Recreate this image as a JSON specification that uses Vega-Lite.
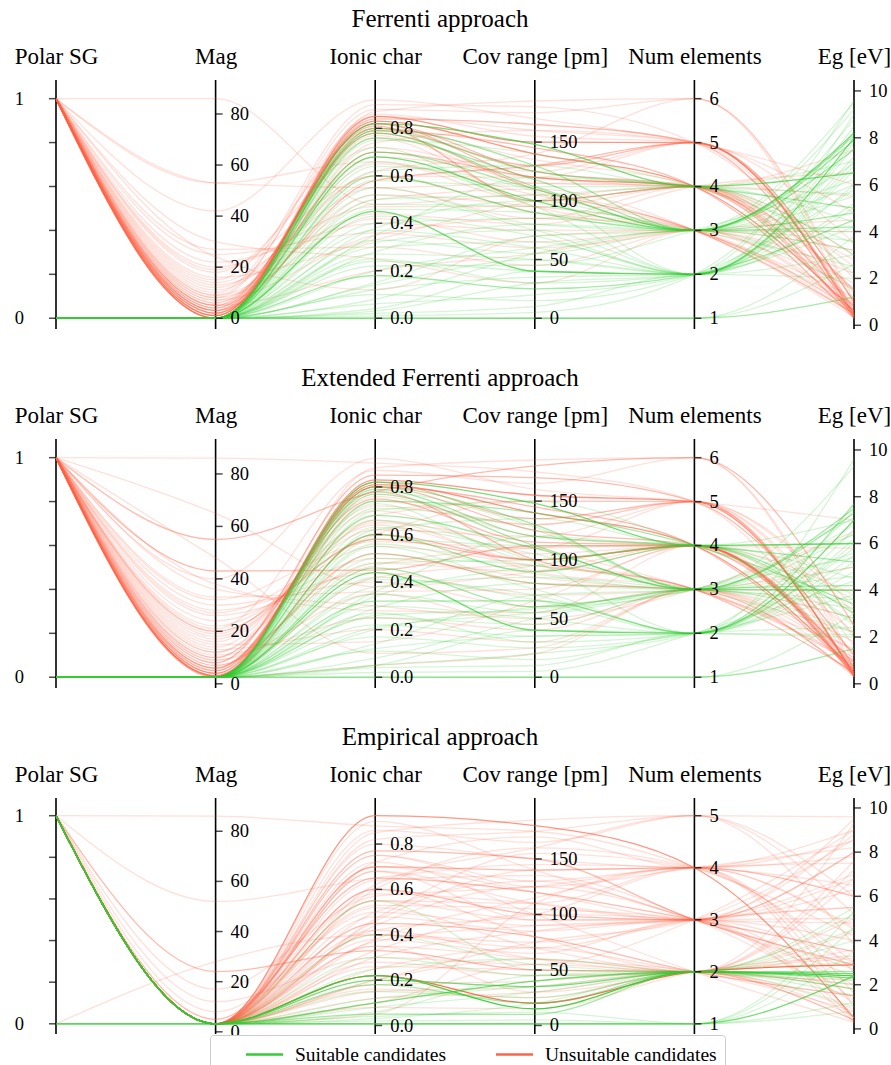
{
"$schema": "https://vega.github.io/schema/vega-lite/v6.json",
"padding": {"left": 14, "top": 7, "right": 0, "bottom": 0},
"config": {
  "view": {"stroke": null},
  "font": "Liberation Serif",
  "legend": {"orient": "none", "legendX": 154, "legendY": 955, "direction": "horizontal", "symbolType": "M-1.85,0H1.85", "symbolStrokeWidth": 2.5, "symbolSize": 400, "symbolOpacity": 1, "symbolOffset": 35, "labelFont": "Liberation Serif", "labelFontSize": 19.5, "labelLimit": 400, "labelColor": "black", "strokeColor": "#cccccc", "fillColor": "white", "padding": 8, "cornerRadius": 3, "columnPadding": 21, "labelOffset": 19}
},
"datasets": {
  "ax1": [{"k":"p","idx":0,"name":"Polar SG","lo":0,"hi":1},{"k":"m","idx":1,"name":"Mag","lo":0,"hi":86},{"k":"i","idx":2,"name":"Ionic char","lo":0,"hi":0.925},{"k":"c","idx":3,"name":"Cov range [pm]","lo":0,"hi":187},{"k":"n","idx":4,"name":"Num elements","lo":1,"hi":6},{"k":"e","idx":5,"name":"Eg [eV]","lo":0.3,"hi":9.67}],
  "ax2": [{"k":"p","idx":0,"name":"Polar SG","lo":0,"hi":1},{"k":"m","idx":1,"name":"Mag","lo":2.5,"hi":86.2},{"k":"i","idx":2,"name":"Ionic char","lo":0,"hi":0.923},{"k":"c","idx":3,"name":"Cov range [pm]","lo":0,"hi":187},{"k":"n","idx":4,"name":"Num elements","lo":1,"hi":6},{"k":"e","idx":5,"name":"Eg [eV]","lo":0.28,"hi":9.67}],
  "ax3": [{"k":"p","idx":0,"name":"Polar SG","lo":0,"hi":1},{"k":"m","idx":1,"name":"Mag","lo":3.2,"hi":86.2},{"k":"i","idx":2,"name":"Ionic char","lo":0.0075,"hi":0.925},{"k":"c","idx":3,"name":"Cov range [pm]","lo":1.5,"hi":189},{"k":"n","idx":4,"name":"Num elements","lo":1,"hi":5},{"k":"e","idx":5,"name":"Eg [eV]","lo":0.23,"hi":9.65}],
  "ticks": [{"k":"p","v":0,"t":"0"},{"k":"p","v":0.2,"t":""},{"k":"p","v":0.4,"t":""},{"k":"p","v":0.6,"t":""},{"k":"p","v":0.8,"t":""},{"k":"p","v":1,"t":"1"},
    {"k":"m","v":0,"t":"0"},{"k":"m","v":20,"t":"20"},{"k":"m","v":40,"t":"40"},{"k":"m","v":60,"t":"60"},{"k":"m","v":80,"t":"80"},
    {"k":"i","v":0,"t":"0.0"},{"k":"i","v":0.2,"t":"0.2"},{"k":"i","v":0.4,"t":"0.4"},{"k":"i","v":0.6,"t":"0.6"},{"k":"i","v":0.8,"t":"0.8"},
    {"k":"c","v":0,"t":"0"},{"k":"c","v":50,"t":"50"},{"k":"c","v":100,"t":"100"},{"k":"c","v":150,"t":"150"},
    {"k":"n","v":1,"t":"1"},{"k":"n","v":2,"t":"2"},{"k":"n","v":3,"t":"3"},{"k":"n","v":4,"t":"4"},{"k":"n","v":5,"t":"5"},{"k":"n","v":6,"t":"6"},
    {"k":"e","v":0,"t":"0"},{"k":"e","v":2,"t":"2"},{"k":"e","v":4,"t":"4"},{"k":"e","v":6,"t":"6"},{"k":"e","v":8,"t":"8"},{"k":"e","v":10,"t":"10"}],
  "d1": [
    {"g":"u","p":1,"m":0,"i":0.85,"c":150,"n":5,"e":0.4,"w":3},
    {"g":"u","p":1,"m":1,"i":0.83,"c":140,"n":4,"e":0.6,"w":3},
    {"g":"u","p":1,"m":2,"i":0.82,"c":120,"n":4,"e":0.8,"w":2},
    {"g":"u","p":1,"m":3,"i":0.8,"c":130,"n":5,"e":1.0,"w":2},
    {"g":"u","p":1,"m":0,"i":0.84,"c":165,"n":5,"e":0.3,"w":2},
    {"g":"u","p":1,"m":5,"i":0.78,"c":110,"n":3,"e":0.5,"w":2},
    {"g":"u","p":1,"m":4,"i":0.81,"c":100,"n":4,"e":1.5,"w":2},
    {"g":"u","p":1,"m":6,"i":0.76,"c":95,"n":3,"e":0.7,"w":1},
    {"g":"u","p":1,"m":8,"i":0.88,"c":175,"n":6,"e":0.9,"w":1},
    {"g":"u","p":1,"m":10,"i":0.9,"c":180,"n":5,"e":2.0,"w":1},
    {"g":"u","p":1,"m":2,"i":0.7,"c":120,"n":4,"e":0.4,"w":2},
    {"g":"u","p":1,"m":7,"i":0.65,"c":105,"n":3,"e":1.2,"w":1},
    {"g":"u","p":1,"m":12,"i":0.6,"c":90,"n":3,"e":0.6,"w":1},
    {"g":"u","p":1,"m":14,"i":0.55,"c":85,"n":4,"e":2.5,"w":1},
    {"g":"u","p":1,"m":9,"i":0.5,"c":110,"n":3,"e":0.35,"w":1},
    {"g":"u","p":1,"m":20,"i":0.47,"c":95,"n":4,"e":3.0,"w":1},
    {"g":"u","p":1,"m":22,"i":0.4,"c":75,"n":3,"e":1.8,"w":1},
    {"g":"u","p":1,"m":25,"i":0.36,"c":60,"n":3,"e":4.5,"w":1},
    {"g":"u","p":1,"m":27,"i":0.3,"c":45,"n":3,"e":0.8,"w":1},
    {"g":"u","p":1,"m":16,"i":0.33,"c":100,"n":4,"e":5.5,"w":1},
    {"g":"u","p":1,"m":3,"i":0.58,"c":130,"n":5,"e":0.5,"w":2},
    {"g":"u","p":1,"m":1,"i":0.86,"c":155,"n":5,"e":3.5,"w":1},
    {"g":"u","p":1,"m":0,"i":0.79,"c":145,"n":4,"e":0.3,"w":2},
    {"g":"u","p":1,"m":18,"i":0.72,"c":125,"n":5,"e":1.0,"w":1},
    {"g":"u","p":1,"m":42,"i":0.92,"c":170,"n":5,"e":6.0,"w":1},
    {"g":"u","p":1,"m":53,"i":0.55,"c":115,"n":4,"e":1.4,"w":1},
    {"g":"u","p":1,"m":86,"i":0.48,"c":105,"n":3,"e":0.9,"w":1},
    {"g":"u","p":1,"m":30,"i":0.25,"c":30,"n":3,"e":2.2,"w":1},
    {"g":"u","p":1,"m":11,"i":0.62,"c":140,"n":6,"e":0.45,"w":1},
    {"g":"u","p":1,"m":13,"i":0.44,"c":80,"n":4,"e":6.5,"w":1},
    {"g":"u","p":1,"m":5,"i":0.2,"c":55,"n":3,"e":3.2,"w":1},
    {"g":"u","p":1,"m":24,"i":0.12,"c":70,"n":3,"e":4.0,"w":1},
    {"g":"u","p":1,"m":4,"i":0.74,"c":160,"n":5,"e":0.7,"w":1},
    {"g":"u","p":1,"m":6,"i":0.68,"c":120,"n":4,"e":7.5,"w":1},
    {"g":"u","p":1,"m":2,"i":0.87,"c":185,"n":6,"e":1.1,"w":1},
    {"g":"u","p":1,"m":8,"i":0.42,"c":65,"n":3,"e":0.6,"w":1},
    {"g":"u","p":1,"m":15,"i":0.8,"c":135,"n":4,"e":2.8,"w":1},
    {"g":"u","p":1,"m":53,"i":0.66,"c":100,"n":4,"e":0.5,"w":1},
    {"g":"u","p":1,"m":1,"i":0.82,"c":125,"n":4,"e":0.35,"w":2},
    {"g":"u","p":1,"m":3,"i":0.77,"c":115,"n":4,"e":0.9,"w":1},
    {"g":"u","p":1,"m":5,"i":0.52,"c":95,"n":3,"e":0.5,"w":1},
    {"g":"u","p":1,"m":7,"i":0.35,"c":85,"n":3,"e":1.6,"w":1},
    {"g":"u","p":1,"m":9,"i":0.85,"c":160,"n":5,"e":4.8,"w":1},
    {"g":"u","p":1,"m":19,"i":0.6,"c":120,"n":5,"e":0.6,"w":1},
    {"g":"s","p":0,"m":0,"i":0.82,"c":148,"n":4,"e":6.5,"w":3},
    {"g":"s","p":0,"m":0,"i":0.8,"c":130,"n":3,"e":4.2,"w":2},
    {"g":"s","p":0,"m":0,"i":0.79,"c":125,"n":4,"e":5.0,"w":2},
    {"g":"s","p":0,"m":0,"i":0.78,"c":112,"n":3,"e":8.1,"w":2},
    {"g":"s","p":0,"m":0,"i":0.75,"c":140,"n":4,"e":3.5,"w":1},
    {"g":"s","p":0,"m":0,"i":0.7,"c":110,"n":3,"e":7.5,"w":2},
    {"g":"s","p":0,"m":0,"i":0.68,"c":100,"n":3,"e":8.2,"w":3},
    {"g":"s","p":0,"m":0,"i":0.66,"c":95,"n":2,"e":6.0,"w":1},
    {"g":"s","p":0,"m":0,"i":0.6,"c":90,"n":3,"e":4.8,"w":2},
    {"g":"s","p":0,"m":0,"i":0.58,"c":112,"n":4,"e":3.0,"w":1},
    {"g":"s","p":0,"m":0,"i":0.55,"c":80,"n":3,"e":5.5,"w":1},
    {"g":"s","p":0,"m":0,"i":0.52,"c":75,"n":2,"e":7.0,"w":1},
    {"g":"s","p":0,"m":0,"i":0.48,"c":95,"n":3,"e":2.5,"w":1},
    {"g":"s","p":0,"m":0,"i":0.45,"c":40,"n":2,"e":8.0,"w":3},
    {"g":"s","p":0,"m":0,"i":0.43,"c":70,"n":2,"e":6.8,"w":1},
    {"g":"s","p":0,"m":0,"i":0.4,"c":85,"n":3,"e":4.0,"w":1},
    {"g":"s","p":0,"m":0,"i":0.37,"c":60,"n":2,"e":5.2,"w":1},
    {"g":"s","p":0,"m":0,"i":0.33,"c":55,"n":3,"e":3.6,"w":1},
    {"g":"s","p":0,"m":0,"i":0.3,"c":65,"n":2,"e":7.8,"w":1},
    {"g":"s","p":0,"m":0,"i":0.27,"c":50,"n":2,"e":9.0,"w":1},
    {"g":"s","p":0,"m":0,"i":0.25,"c":30,"n":2,"e":8.5,"w":1},
    {"g":"s","p":0,"m":0,"i":0.22,"c":45,"n":3,"e":6.2,"w":1},
    {"g":"s","p":0,"m":0,"i":0.18,"c":25,"n":2,"e":4.5,"w":2},
    {"g":"s","p":0,"m":0,"i":0.15,"c":70,"n":3,"e":9.5,"w":1},
    {"g":"s","p":0,"m":0,"i":0.12,"c":35,"n":2,"e":7.2,"w":1},
    {"g":"s","p":0,"m":0,"i":0.1,"c":15,"n":2,"e":5.8,"w":1},
    {"g":"s","p":0,"m":0,"i":0.08,"c":55,"n":3,"e":3.2,"w":1},
    {"g":"s","p":0,"m":0,"i":0.06,"c":20,"n":2,"e":9.6,"w":1},
    {"g":"s","p":0,"m":0,"i":0.04,"c":40,"n":2,"e":6.6,"w":1},
    {"g":"s","p":0,"m":0,"i":0.02,"c":10,"n":2,"e":2.0,"w":1},
    {"g":"s","p":0,"m":0,"i":0.0,"c":0,"n":1,"e":1.2,"w":2},
    {"g":"s","p":0,"m":0,"i":0.0,"c":0,"n":1,"e":2.6,"w":1},
    {"g":"s","p":0,"m":0,"i":0.0,"c":0,"n":1,"e":3.8,"w":1},
    {"g":"s","p":0,"m":0,"i":0.01,"c":5,"n":2,"e":8.8,"w":1},
    {"g":"s","p":0,"m":0,"i":0.35,"c":120,"n":4,"e":5.6,"w":1},
    {"g":"s","p":0,"m":0,"i":0.5,"c":105,"n":4,"e":2.2,"w":1},
    {"g":"s","p":0,"m":0,"i":0.62,"c":130,"n":4,"e":7.0,"w":1},
    {"g":"s","p":0,"m":0,"i":0.28,"c":80,"n":3,"e":6.9,"w":1},
    {"g":"s","p":0,"m":0,"i":0.2,"c":60,"n":3,"e":1.5,"w":1},
    {"g":"s","p":0,"m":0,"i":0.72,"c":100,"n":4,"e":4.4,"w":1},
    {"g":"s","p":0,"m":0,"i":0.76,"c":118,"n":3,"e":7.9,"w":2},
    {"g":"s","p":0,"m":0,"i":0.64,"c":108,"n":2,"e":8.3,"w":1},
    {"g":"s","p":0,"m":0,"i":0.46,"c":90,"n":3,"e":6.0,"w":1},
    {"g":"s","p":0,"m":0,"i":0.32,"c":75,"n":2,"e":5.0,"w":1},
    {"g":"s","p":0,"m":0,"i":0.24,"c":40,"n":2,"e":3.0,"w":1},
    {"g":"s","p":0,"m":0,"i":0.14,"c":50,"n":2,"e":7.6,"w":1},
    {"g":"s","p":0,"m":0,"i":0.03,"c":30,"n":2,"e":4.2,"w":1},
    {"g":"s","p":0,"m":0,"i":0.38,"c":100,"n":3,"e":9.2,"w":1}
  ],
  "d2": [
    {"g":"u","p":1,"m":3,"i":0.83,"c":155,"n":5,"e":0.4,"w":3},
    {"g":"u","p":1,"m":4,"i":0.81,"c":140,"n":4,"e":0.6,"w":3},
    {"g":"u","p":1,"m":5,"i":0.8,"c":125,"n":4,"e":0.9,"w":2},
    {"g":"u","p":1,"m":6,"i":0.78,"c":100,"n":3,"e":0.5,"w":2},
    {"g":"u","p":1,"m":8,"i":0.85,"c":170,"n":5,"e":1.2,"w":2},
    {"g":"u","p":1,"m":10,"i":0.75,"c":115,"n":4,"e":0.3,"w":2},
    {"g":"u","p":1,"m":12,"i":0.72,"c":130,"n":5,"e":1.6,"w":1},
    {"g":"u","p":1,"m":14,"i":0.7,"c":105,"n":4,"e":2.2,"w":1},
    {"g":"u","p":1,"m":16,"i":0.66,"c":90,"n":3,"e":0.8,"w":1},
    {"g":"u","p":1,"m":18,"i":0.62,"c":120,"n":5,"e":3.0,"w":1},
    {"g":"u","p":1,"m":20,"i":0.58,"c":100,"n":4,"e":0.45,"w":2},
    {"g":"u","p":1,"m":22,"i":0.55,"c":95,"n":3,"e":1.0,"w":1},
    {"g":"u","p":1,"m":24,"i":0.5,"c":85,"n":3,"e":4.0,"w":1},
    {"g":"u","p":1,"m":26,"i":0.47,"c":110,"n":4,"e":0.6,"w":1},
    {"g":"u","p":1,"m":28,"i":0.44,"c":70,"n":3,"e":5.0,"w":1},
    {"g":"u","p":1,"m":30,"i":0.4,"c":60,"n":3,"e":1.8,"w":1},
    {"g":"u","p":1,"m":33,"i":0.36,"c":75,"n":4,"e":0.35,"w":1},
    {"g":"u","p":1,"m":36,"i":0.3,"c":50,"n":3,"e":6.5,"w":1},
    {"g":"u","p":1,"m":43,"i":0.45,"c":112,"n":4,"e":0.7,"w":2},
    {"g":"u","p":1,"m":55,"i":0.78,"c":180,"n":6,"e":2.5,"w":2},
    {"g":"u","p":1,"m":86,"i":0.9,"c":175,"n":5,"e":0.5,"w":1},
    {"g":"u","p":1,"m":3,"i":0.6,"c":100,"n":4,"e":0.35,"w":2},
    {"g":"u","p":1,"m":5,"i":0.88,"c":185,"n":6,"e":0.9,"w":1},
    {"g":"u","p":1,"m":7,"i":0.52,"c":80,"n":3,"e":0.4,"w":2},
    {"g":"u","p":1,"m":9,"i":0.35,"c":45,"n":3,"e":1.1,"w":1},
    {"g":"u","p":1,"m":11,"i":0.25,"c":40,"n":3,"e":2.8,"w":1},
    {"g":"u","p":1,"m":13,"i":0.2,"c":30,"n":3,"e":0.7,"w":1},
    {"g":"u","p":1,"m":15,"i":0.15,"c":65,"n":4,"e":3.8,"w":1},
    {"g":"u","p":1,"m":19,"i":0.68,"c":150,"n":5,"e":0.4,"w":1},
    {"g":"u","p":1,"m":2.5,"i":0.82,"c":135,"n":5,"e":0.3,"w":2},
    {"g":"u","p":1,"m":40,"i":0.92,"c":160,"n":5,"e":7.0,"w":1},
    {"g":"u","p":1,"m":48,"i":0.1,"c":25,"n":3,"e":1.4,"w":1},
    {"g":"u","p":1,"m":65,"i":0.38,"c":90,"n":4,"e":0.5,"w":1},
    {"g":"u","p":1,"m":6,"i":0.76,"c":120,"n":4,"e":5.8,"w":1},
    {"g":"u","p":1,"m":4,"i":0.42,"c":95,"n":3,"e":0.9,"w":1},
    {"g":"u","p":1,"m":21,"i":0.87,"c":165,"n":6,"e":0.6,"w":1},
    {"g":"u","p":1,"m":32,"i":0.57,"c":110,"n":5,"e":2.0,"w":1},
    {"g":"u","p":1,"m":2.5,"i":0.05,"c":20,"n":3,"e":0.3,"w":1},
    {"g":"u","p":1,"m":38,"i":0.28,"c":55,"n":4,"e":1.3,"w":1},
    {"g":"u","p":1,"m":17,"i":0.64,"c":100,"n":4,"e":0.8,"w":1},
    {"g":"u","p":1,"m":3,"i":0.8,"c":145,"n":4,"e":0.5,"w":2},
    {"g":"u","p":1,"m":6,"i":0.74,"c":130,"n":5,"e":0.7,"w":1},
    {"g":"u","p":1,"m":9,"i":0.48,"c":90,"n":4,"e":0.4,"w":1},
    {"g":"u","p":1,"m":12,"i":0.65,"c":110,"n":3,"e":1.5,"w":1},
    {"g":"u","p":1,"m":27,"i":0.6,"c":150,"n":5,"e":3.3,"w":1},
    {"g":"s","p":0,"m":2.5,"i":0.82,"c":148,"n":4,"e":6.0,"w":3},
    {"g":"s","p":0,"m":2.5,"i":0.8,"c":130,"n":3,"e":4.0,"w":2},
    {"g":"s","p":0,"m":2.5,"i":0.79,"c":120,"n":4,"e":5.2,"w":2},
    {"g":"s","p":0,"m":2.5,"i":0.77,"c":112,"n":3,"e":7.3,"w":2},
    {"g":"s","p":0,"m":2.5,"i":0.74,"c":140,"n":4,"e":3.4,"w":2},
    {"g":"s","p":0,"m":2.5,"i":0.71,"c":125,"n":3,"e":6.8,"w":1},
    {"g":"s","p":0,"m":2.5,"i":0.68,"c":110,"n":3,"e":7.5,"w":2},
    {"g":"s","p":0,"m":2.5,"i":0.66,"c":98,"n":2,"e":5.5,"w":1},
    {"g":"s","p":0,"m":2.5,"i":0.63,"c":105,"n":3,"e":4.6,"w":1},
    {"g":"s","p":0,"m":2.5,"i":0.6,"c":90,"n":4,"e":3.0,"w":2},
    {"g":"s","p":0,"m":2.5,"i":0.58,"c":112,"n":4,"e":2.5,"w":1},
    {"g":"s","p":0,"m":2.5,"i":0.55,"c":80,"n":3,"e":5.0,"w":1},
    {"g":"s","p":0,"m":2.5,"i":0.52,"c":75,"n":2,"e":6.2,"w":1},
    {"g":"s","p":0,"m":2.5,"i":0.5,"c":95,"n":3,"e":2.2,"w":1},
    {"g":"s","p":0,"m":2.5,"i":0.46,"c":60,"n":3,"e":4.2,"w":2},
    {"g":"s","p":0,"m":2.5,"i":0.44,"c":40,"n":2,"e":7.0,"w":3},
    {"g":"s","p":0,"m":2.5,"i":0.41,"c":70,"n":2,"e":6.6,"w":1},
    {"g":"s","p":0,"m":2.5,"i":0.38,"c":85,"n":3,"e":3.6,"w":1},
    {"g":"s","p":0,"m":2.5,"i":0.35,"c":55,"n":3,"e":3.2,"w":1},
    {"g":"s","p":0,"m":2.5,"i":0.32,"c":65,"n":2,"e":7.7,"w":2},
    {"g":"s","p":0,"m":2.5,"i":0.3,"c":50,"n":2,"e":4.8,"w":1},
    {"g":"s","p":0,"m":2.5,"i":0.27,"c":30,"n":2,"e":5.8,"w":1},
    {"g":"s","p":0,"m":2.5,"i":0.25,"c":45,"n":3,"e":2.8,"w":1},
    {"g":"s","p":0,"m":2.5,"i":0.22,"c":35,"n":2,"e":9.6,"w":1},
    {"g":"s","p":0,"m":2.5,"i":0.2,"c":60,"n":3,"e":6.4,"w":1},
    {"g":"s","p":0,"m":2.5,"i":0.17,"c":25,"n":2,"e":3.8,"w":1},
    {"g":"s","p":0,"m":2.5,"i":0.14,"c":70,"n":3,"e":9.3,"w":1},
    {"g":"s","p":0,"m":2.5,"i":0.11,"c":15,"n":2,"e":2.4,"w":1},
    {"g":"s","p":0,"m":2.5,"i":0.08,"c":50,"n":3,"e":5.4,"w":1},
    {"g":"s","p":0,"m":2.5,"i":0.05,"c":20,"n":2,"e":7.4,"w":1},
    {"g":"s","p":0,"m":2.5,"i":0.04,"c":10,"n":2,"e":2.1,"w":1},
    {"g":"s","p":0,"m":2.5,"i":0.02,"c":5,"n":2,"e":4.4,"w":1},
    {"g":"s","p":0,"m":2.5,"i":0.0,"c":0,"n":1,"e":1.5,"w":2},
    {"g":"s","p":0,"m":2.5,"i":0.0,"c":0,"n":1,"e":3.0,"w":1},
    {"g":"s","p":0,"m":2.5,"i":0.05,"c":40,"n":2,"e":2.0,"w":1},
    {"g":"s","p":0,"m":2.5,"i":0.36,"c":120,"n":4,"e":6.0,"w":1},
    {"g":"s","p":0,"m":2.5,"i":0.48,"c":100,"n":4,"e":2.6,"w":1},
    {"g":"s","p":0,"m":2.5,"i":0.62,"c":135,"n":4,"e":7.0,"w":1},
    {"g":"s","p":0,"m":2.5,"i":0.29,"c":80,"n":3,"e":5.6,"w":1},
    {"g":"s","p":0,"m":2.5,"i":0.21,"c":55,"n":3,"e":2.2,"w":1},
    {"g":"s","p":0,"m":2.5,"i":0.73,"c":100,"n":4,"e":4.5,"w":1},
    {"g":"s","p":0,"m":2.5,"i":0.7,"c":150,"n":4,"e":3.2,"w":1},
    {"g":"s","p":0,"m":2.5,"i":0.78,"c":128,"n":3,"e":6.4,"w":1},
    {"g":"s","p":0,"m":2.5,"i":0.56,"c":88,"n":3,"e":4.0,"w":1},
    {"g":"s","p":0,"m":2.5,"i":0.42,"c":66,"n":2,"e":5.2,"w":1},
    {"g":"s","p":0,"m":2.5,"i":0.26,"c":58,"n":3,"e":7.1,"w":1},
    {"g":"s","p":0,"m":2.5,"i":0.12,"c":35,"n":2,"e":6.0,"w":1},
    {"g":"s","p":0,"m":2.5,"i":0.34,"c":95,"n":4,"e":3.6,"w":1}
  ],
  "d3": [
    {"g":"u","p":1,"m":3.2,"i":0.925,"c":180,"n":4,"e":0.5,"w":3},
    {"g":"u","p":1,"m":3.2,"i":0.77,"c":150,"n":3,"e":2.9,"w":2},
    {"g":"u","p":1,"m":3.2,"i":0.7,"c":140,"n":4,"e":6.0,"w":2},
    {"g":"u","p":1,"m":5,"i":0.65,"c":120,"n":3,"e":3.5,"w":2},
    {"g":"u","p":1,"m":3.2,"i":0.6,"c":100,"n":3,"e":8.0,"w":2},
    {"g":"u","p":1,"m":3.2,"i":0.55,"c":110,"n":4,"e":4.5,"w":1},
    {"g":"u","p":1,"m":8,"i":0.5,"c":90,"n":3,"e":7.0,"w":1},
    {"g":"u","p":1,"m":3.2,"i":0.45,"c":80,"n":2,"e":1.5,"w":2},
    {"g":"u","p":1,"m":3.2,"i":0.4,"c":75,"n":3,"e":5.5,"w":1},
    {"g":"u","p":1,"m":3.2,"i":0.35,"c":60,"n":2,"e":0.8,"w":1},
    {"g":"u","p":1,"m":12,"i":0.3,"c":55,"n":3,"e":9.0,"w":1},
    {"g":"u","p":1,"m":3.2,"i":0.25,"c":70,"n":2,"e":2.2,"w":1},
    {"g":"u","p":1,"m":3.2,"i":0.75,"c":130,"n":4,"e":0.3,"w":1},
    {"g":"u","p":1,"m":3.2,"i":0.68,"c":95,"n":3,"e":6.8,"w":1},
    {"g":"u","p":1,"m":3.2,"i":0.62,"c":160,"n":5,"e":9.6,"w":1},
    {"g":"u","p":1,"m":17,"i":0.57,"c":125,"n":4,"e":1.0,"w":1},
    {"g":"u","p":1,"m":3.2,"i":0.48,"c":85,"n":3,"e":4.0,"w":1},
    {"g":"u","p":1,"m":3.2,"i":0.42,"c":100,"n":4,"e":7.5,"w":1},
    {"g":"u","p":1,"m":3.2,"i":0.38,"c":65,"n":3,"e":3.0,"w":1},
    {"g":"u","p":1,"m":24,"i":0.33,"c":50,"n":2,"e":0.4,"w":2},
    {"g":"u","p":1,"m":3.2,"i":0.72,"c":170,"n":4,"e":8.5,"w":1},
    {"g":"u","p":1,"m":3.2,"i":0.58,"c":110,"n":3,"e":5.0,"w":1},
    {"g":"u","p":1,"m":3.2,"i":0.85,"c":185,"n":5,"e":3.8,"w":1},
    {"g":"u","p":1,"m":3.2,"i":0.18,"c":40,"n":2,"e":1.8,"w":1},
    {"g":"u","p":1,"m":52,"i":0.65,"c":145,"n":4,"e":6.5,"w":1},
    {"g":"u","p":1,"m":86,"i":0.88,"c":175,"n":4,"e":4.2,"w":1},
    {"g":"u","p":1,"m":3.2,"i":0.12,"c":30,"n":2,"e":0.6,"w":1},
    {"g":"u","p":1,"m":3.2,"i":0.08,"c":15,"n":2,"e":3.3,"w":1},
    {"g":"u","p":1,"m":3.2,"i":0.53,"c":105,"n":3,"e":0.3,"w":1},
    {"g":"u","p":1,"m":3.2,"i":0.8,"c":150,"n":4,"e":7.8,"w":1},
    {"g":"u","p":1,"m":3.2,"i":0.44,"c":125,"n":3,"e":2.0,"w":1},
    {"g":"u","p":1,"m":3.2,"i":0.37,"c":90,"n":3,"e":8.8,"w":1},
    {"g":"u","p":1,"m":3.2,"i":0.28,"c":45,"n":2,"e":5.0,"w":1},
    {"g":"u","p":1,"m":3.2,"i":0.64,"c":135,"n":3,"e":1.2,"w":1},
    {"g":"u","p":1,"m":3.2,"i":0.86,"c":165,"n":5,"e":6.0,"w":1},
    {"g":"u","p":1,"m":3.2,"i":0.7,"c":120,"n":3,"e":4.8,"w":1},
    {"g":"u","p":1,"m":3.2,"i":0.2,"c":60,"n":2,"e":3.6,"w":1},
    {"g":"u","p":1,"m":3.2,"i":0.47,"c":155,"n":4,"e":2.6,"w":1},
    {"g":"u","p":1,"m":3.2,"i":0.6,"c":80,"n":2,"e":7.2,"w":1},
    {"g":"u","p":1,"m":3.2,"i":0.9,"c":140,"n":3,"e":2.4,"w":1},
    {"g":"u","p":1,"m":3.2,"i":0.15,"c":35,"n":2,"e":0.9,"w":1},
    {"g":"u","p":1,"m":3.2,"i":0.33,"c":100,"n":3,"e":0.5,"w":1},
    {"g":"u","p":1,"m":3.2,"i":0.52,"c":70,"n":2,"e":9.3,"w":1},
    {"g":"u","p":1,"m":3.2,"i":0.05,"c":110,"n":4,"e":1.6,"w":1},
    {"g":"u","p":0,"m":28,"i":0.4,"c":70,"n":3,"e":5.5,"w":1},
    {"g":"u","p":1,"m":3.2,"i":0.75,"c":125,"n":4,"e":8.2,"w":1},
    {"g":"u","p":1,"m":3.2,"i":0.68,"c":110,"n":3,"e":9.5,"w":1},
    {"g":"u","p":1,"m":3.2,"i":0.6,"c":160,"n":4,"e":3.0,"w":1},
    {"g":"u","p":1,"m":3.2,"i":0.55,"c":95,"n":3,"e":6.3,"w":1},
    {"g":"u","p":1,"m":3.2,"i":0.5,"c":130,"n":3,"e":2.7,"w":1},
    {"g":"u","p":1,"m":3.2,"i":0.42,"c":60,"n":2,"e":7.6,"w":1},
    {"g":"u","p":1,"m":3.2,"i":0.38,"c":115,"n":4,"e":4.6,"w":1},
    {"g":"u","p":1,"m":3.2,"i":0.3,"c":85,"n":3,"e":1.3,"w":1},
    {"g":"u","p":1,"m":3.2,"i":0.26,"c":50,"n":2,"e":6.8,"w":1},
    {"g":"u","p":1,"m":3.2,"i":0.2,"c":75,"n":3,"e":8.6,"w":1},
    {"g":"u","p":1,"m":3.2,"i":0.16,"c":25,"n":2,"e":2.0,"w":1},
    {"g":"u","p":1,"m":3.2,"i":0.1,"c":55,"n":2,"e":4.4,"w":1},
    {"g":"u","p":1,"m":3.2,"i":0.82,"c":175,"n":5,"e":5.2,"w":1},
    {"g":"u","p":1,"m":3.2,"i":0.72,"c":100,"n":2,"e":0.3,"w":1},
    {"g":"u","p":1,"m":3.2,"i":0.46,"c":140,"n":4,"e":9.0,"w":1},
    {"g":"u","p":1,"m":3.2,"i":0.35,"c":30,"n":2,"e":3.2,"w":1},
    {"g":"u","p":1,"m":3.2,"i":0.22,"c":20,"n":2,"e":2.9,"w":4},
    {"g":"s","p":1,"m":3.2,"i":0.22,"c":15,"n":2,"e":2.4,"w":4},
    {"g":"s","p":1,"m":3.2,"i":0.2,"c":35,"n":2,"e":2.5,"w":3},
    {"g":"s","p":1,"m":3.2,"i":0.1,"c":40,"n":2,"e":2.3,"w":3},
    {"g":"s","p":0,"m":3.2,"i":0.0075,"c":1.5,"n":1,"e":2.4,"w":3},
    {"g":"s","p":1,"m":3.2,"i":0.55,"c":50,"n":2,"e":5.5,"w":1},
    {"g":"s","p":1,"m":3.2,"i":0.4,"c":55,"n":2,"e":5.2,"w":1},
    {"g":"s","p":1,"m":3.2,"i":0.3,"c":45,"n":2,"e":4.5,"w":1},
    {"g":"s","p":1,"m":3.2,"i":0.05,"c":10,"n":2,"e":1.8,"w":2},
    {"g":"s","p":1,"m":3.2,"i":0.03,"c":20,"n":2,"e":2.0,"w":1},
    {"g":"s","p":0,"m":3.2,"i":0.0075,"c":1.5,"n":1,"e":1.2,"w":1},
    {"g":"s","p":0,"m":3.2,"i":0.0075,"c":1.5,"n":1,"e":0.8,"w":1},
    {"g":"s","p":0,"m":3.2,"i":0.02,"c":5,"n":1,"e":3.5,"w":1},
    {"g":"s","p":1,"m":3.2,"i":0.15,"c":25,"n":2,"e":1.5,"w":1},
    {"g":"s","p":1,"m":3.2,"i":0.08,"c":30,"n":2,"e":3.0,"w":1},
    {"g":"s","p":1,"m":3.2,"i":0.25,"c":60,"n":2,"e":4.0,"w":1},
    {"g":"s","p":0,"m":3.2,"i":0.0075,"c":1.5,"n":1,"e":5.3,"w":1},
    {"g":"s","p":1,"m":3.2,"i":0.12,"c":35,"n":2,"e":1.0,"w":1},
    {"g":"s","p":1,"m":3.2,"i":0.18,"c":20,"n":2,"e":2.6,"w":2},
    {"g":"s","p":0,"m":3.2,"i":0.04,"c":12,"n":1,"e":4.6,"w":1},
    {"g":"s","p":1,"m":3.2,"i":0.06,"c":45,"n":2,"e":2.2,"w":1}
  ]
},
"spacing": 31,
"resolve": {"scale": {"x": "independent", "y": "independent", "color": "shared", "opacity": "shared"}},
"vconcat": [
  {
    "title": {"text": "Ferrenti approach", "fontSize": 25, "font": "Liberation Serif", "fontWeight": "normal", "anchor": "middle", "dx": -15, "offset": 13, "color": "black"},
    "width": 798, "height": 249,
    "layer": [
      {"data": {"name": "ax1"}, "mark": {"type": "rule", "color": "black", "strokeWidth": 1.6},
       "encoding": {"x": {"field": "name", "type": "nominal", "scale": {"type": "point", "domain": ["Polar SG","Mag","Ionic char","Cov range [pm]","Num elements","Eg [eV]"], "padding": 0},
         "axis": {"orient": "top", "title": null, "domain": false, "ticks": false, "labelAngle": 0, "labelFontSize": 23, "labelFont": "Liberation Serif", "labelColor": "black", "labelPadding": 12}}}},
      {"data": {"name": "d1"},
       "transform": [{"window": [{"op": "row_number", "as": "id"}]}, {"fold": ["p","m","i","c","n","e"], "as": ["k","v"]}, {"lookup": "k", "from": {"data": {"name": "ax1"}, "key": "k", "fields": ["name","idx","lo","hi"]}}, {"calculate": "(datum.v-datum.lo)/(datum.hi-datum.lo)", "as": "y"}],
       "mark": {"type": "line", "interpolate": "monotone", "strokeWidth": 1.3},
       "encoding": {"x": {"field": "name", "type": "nominal"},
         "y": {"field": "y", "type": "quantitative", "scale": {"domain": [-0.049, 1.085], "nice": false, "zero": false}, "axis": null},
         "order": {"field": "idx"}, "detail": {"field": "id"},
         "color": {"field": "g", "type": "nominal", "scale": {"domain": ["s","u"], "range": ["#32cd32","#ff6347"]}, "legend": {"title": null, "labelExpr": "datum.label == 's' ? 'Suitable candidates' : 'Unsuitable candidates'"}},
         "opacity": {"field": "w", "type": "quantitative", "scale": {"domain": [1,4], "range": [0.2,0.9]}, "legend": null}}},
      {"data": {"name": "ticks"},
       "transform": [{"lookup": "k", "from": {"data": {"name": "ax1"}, "key": "k", "fields": ["name","lo","hi"]}}, {"calculate": "(datum.v-datum.lo)/(datum.hi-datum.lo)", "as": "y"}],
       "layer": [
         {"transform": [{"filter": "datum.k != 'p'"}], "mark": {"type": "tick", "orient": "horizontal", "size": 7, "thickness": 1.5, "color": "black"},
          "encoding": {"x": {"field": "name", "type": "nominal"}, "y": {"field": "y", "type": "quantitative", "axis": null}, "xOffset": {"value": 3.5}}},
         {"transform": [{"filter": "datum.k == 'p'"}], "mark": {"type": "tick", "orient": "horizontal", "size": 7, "thickness": 1.5, "color": "black"},
          "encoding": {"x": {"field": "name", "type": "nominal"}, "y": {"field": "y", "type": "quantitative", "axis": null}, "xOffset": {"value": -3.5}}},
         {"transform": [{"filter": "datum.k != 'p'"}], "mark": {"type": "text", "align": "left", "baseline": "middle", "dx": 15, "fontSize": 18.5, "font": "Liberation Serif", "color": "black"},
          "encoding": {"x": {"field": "name", "type": "nominal"}, "y": {"field": "y", "type": "quantitative", "axis": null}, "text": {"field": "t"}}},
         {"transform": [{"filter": "datum.k == 'p'"}], "mark": {"type": "text", "align": "right", "baseline": "middle", "dx": -32, "fontSize": 18.5, "font": "Liberation Serif", "color": "black"},
          "encoding": {"x": {"field": "name", "type": "nominal"}, "y": {"field": "y", "type": "quantitative", "axis": null}, "text": {"field": "t"}}}
       ]}
    ]
  },
  {
    "title": {"text": "Extended Ferrenti approach", "fontSize": 25, "font": "Liberation Serif", "fontWeight": "normal", "anchor": "middle", "dx": -15, "offset": 13, "color": "black"},
    "width": 798, "height": 249,
    "layer": [
      {"data": {"name": "ax2"}, "mark": {"type": "rule", "color": "black", "strokeWidth": 1.6},
       "encoding": {"x": {"field": "name", "type": "nominal", "scale": {"type": "point", "domain": ["Polar SG","Mag","Ionic char","Cov range [pm]","Num elements","Eg [eV]"], "padding": 0},
         "axis": {"orient": "top", "title": null, "domain": false, "ticks": false, "labelAngle": 0, "labelFontSize": 23, "labelFont": "Liberation Serif", "labelColor": "black", "labelPadding": 12}}}},
      {"data": {"name": "d2"},
       "transform": [{"window": [{"op": "row_number", "as": "id"}]}, {"fold": ["p","m","i","c","n","e"], "as": ["k","v"]}, {"lookup": "k", "from": {"data": {"name": "ax2"}, "key": "k", "fields": ["name","idx","lo","hi"]}}, {"calculate": "(datum.v-datum.lo)/(datum.hi-datum.lo)", "as": "y"}],
       "mark": {"type": "line", "interpolate": "monotone", "strokeWidth": 1.3},
       "encoding": {"x": {"field": "name", "type": "nominal"},
         "y": {"field": "y", "type": "quantitative", "scale": {"domain": [-0.049, 1.085], "nice": false, "zero": false}, "axis": null},
         "order": {"field": "idx"}, "detail": {"field": "id"},
         "color": {"field": "g", "type": "nominal", "scale": {"domain": ["s","u"], "range": ["#32cd32","#ff6347"]}, "legend": {"title": null, "labelExpr": "datum.label == 's' ? 'Suitable candidates' : 'Unsuitable candidates'"}},
         "opacity": {"field": "w", "type": "quantitative", "scale": {"domain": [1,4], "range": [0.2,0.9]}, "legend": null}}},
      {"data": {"name": "ticks"},
       "transform": [{"lookup": "k", "from": {"data": {"name": "ax2"}, "key": "k", "fields": ["name","lo","hi"]}}, {"calculate": "(datum.v-datum.lo)/(datum.hi-datum.lo)", "as": "y"}],
       "layer": [
         {"transform": [{"filter": "datum.k != 'p'"}], "mark": {"type": "tick", "orient": "horizontal", "size": 7, "thickness": 1.5, "color": "black"},
          "encoding": {"x": {"field": "name", "type": "nominal"}, "y": {"field": "y", "type": "quantitative", "axis": null}, "xOffset": {"value": 3.5}}},
         {"transform": [{"filter": "datum.k == 'p'"}], "mark": {"type": "tick", "orient": "horizontal", "size": 7, "thickness": 1.5, "color": "black"},
          "encoding": {"x": {"field": "name", "type": "nominal"}, "y": {"field": "y", "type": "quantitative", "axis": null}, "xOffset": {"value": -3.5}}},
         {"transform": [{"filter": "datum.k != 'p'"}], "mark": {"type": "text", "align": "left", "baseline": "middle", "dx": 15, "fontSize": 18.5, "font": "Liberation Serif", "color": "black"},
          "encoding": {"x": {"field": "name", "type": "nominal"}, "y": {"field": "y", "type": "quantitative", "axis": null}, "text": {"field": "t"}}},
         {"transform": [{"filter": "datum.k == 'p'"}], "mark": {"type": "text", "align": "right", "baseline": "middle", "dx": -32, "fontSize": 18.5, "font": "Liberation Serif", "color": "black"},
          "encoding": {"x": {"field": "name", "type": "nominal"}, "y": {"field": "y", "type": "quantitative", "axis": null}, "text": {"field": "t"}}}
       ]}
    ]
  },
  {
    "title": {"text": "Empirical approach", "fontSize": 25, "font": "Liberation Serif", "fontWeight": "normal", "anchor": "middle", "dx": -15, "offset": 13, "color": "black"},
    "width": 798, "height": 236,
    "layer": [
      {"data": {"name": "ax3"}, "mark": {"type": "rule", "color": "black", "strokeWidth": 1.6},
       "encoding": {"x": {"field": "name", "type": "nominal", "scale": {"type": "point", "domain": ["Polar SG","Mag","Ionic char","Cov range [pm]","Num elements","Eg [eV]"], "padding": 0},
         "axis": {"orient": "top", "title": null, "domain": false, "ticks": false, "labelAngle": 0, "labelFontSize": 23, "labelFont": "Liberation Serif", "labelColor": "black", "labelPadding": 12}}}},
      {"data": {"name": "d3"},
       "transform": [{"window": [{"op": "row_number", "as": "id"}]}, {"fold": ["p","m","i","c","n","e"], "as": ["k","v"]}, {"lookup": "k", "from": {"data": {"name": "ax3"}, "key": "k", "fields": ["name","idx","lo","hi"]}}, {"calculate": "(datum.v-datum.lo)/(datum.hi-datum.lo)", "as": "y"}],
       "mark": {"type": "line", "interpolate": "monotone", "strokeWidth": 1.3},
       "encoding": {"x": {"field": "name", "type": "nominal"},
         "y": {"field": "y", "type": "quantitative", "scale": {"domain": [-0.049, 1.085], "nice": false, "zero": false}, "axis": null},
         "order": {"field": "idx"}, "detail": {"field": "id"},
         "color": {"field": "g", "type": "nominal", "scale": {"domain": ["s","u"], "range": ["#32cd32","#ff6347"]}, "legend": {"title": null, "labelExpr": "datum.label == 's' ? 'Suitable candidates' : 'Unsuitable candidates'"}},
         "opacity": {"field": "w", "type": "quantitative", "scale": {"domain": [1,4], "range": [0.2,0.9]}, "legend": null}}},
      {"data": {"name": "ticks"},
       "transform": [{"filter": "datum.k != 'n' || datum.v <= 5"}, {"lookup": "k", "from": {"data": {"name": "ax3"}, "key": "k", "fields": ["name","lo","hi"]}}, {"calculate": "(datum.v-datum.lo)/(datum.hi-datum.lo)", "as": "y"}],
       "layer": [
         {"transform": [{"filter": "datum.k != 'p'"}], "mark": {"type": "tick", "orient": "horizontal", "size": 7, "thickness": 1.5, "color": "black"},
          "encoding": {"x": {"field": "name", "type": "nominal"}, "y": {"field": "y", "type": "quantitative", "axis": null}, "xOffset": {"value": 3.5}}},
         {"transform": [{"filter": "datum.k == 'p'"}], "mark": {"type": "tick", "orient": "horizontal", "size": 7, "thickness": 1.5, "color": "black"},
          "encoding": {"x": {"field": "name", "type": "nominal"}, "y": {"field": "y", "type": "quantitative", "axis": null}, "xOffset": {"value": -3.5}}},
         {"transform": [{"filter": "datum.k != 'p'"}], "mark": {"type": "text", "align": "left", "baseline": "middle", "dx": 15, "fontSize": 18.5, "font": "Liberation Serif", "color": "black"},
          "encoding": {"x": {"field": "name", "type": "nominal"}, "y": {"field": "y", "type": "quantitative", "axis": null}, "text": {"field": "t"}}},
         {"transform": [{"filter": "datum.k == 'p'"}], "mark": {"type": "text", "align": "right", "baseline": "middle", "dx": -32, "fontSize": 18.5, "font": "Liberation Serif", "color": "black"},
          "encoding": {"x": {"field": "name", "type": "nominal"}, "y": {"field": "y", "type": "quantitative", "axis": null}, "text": {"field": "t"}}}
       ]}
    ]
  }
]
}
